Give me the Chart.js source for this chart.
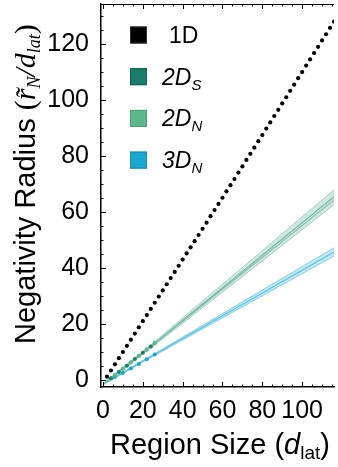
<!DOCTYPE html>
<html>
<head>
<meta charset="utf-8">
<script src="https://cdn.jsdelivr.net/npm/chart.js@4.4.0/dist/chart.umd.min.js"></script>
<style>
  html, body { margin: 0; padding: 0; background: #fff; }
  #wrap { width: 338px; height: 467px; }
</style>
</head>
<body>
<div id="wrap"><canvas id="radiusChart" width="338" height="467"></canvas></div>
<script>
// tick labels
const xTicks = [0, 20, 40, 60, 80, 100];
const yTicks = [0, 20, 40, 60, 80, 100, 120];

// 1D lattice points
const x1D = [2, 4, 6, 8, 10, 12, 14, 16, 18, 20, 22, 24, 26, 28, 30, 32, 34, 36, 38, 40,
  42, 44, 46, 48, 50, 52, 54, 56, 58, 60, 62, 64, 66, 68, 70, 72, 74, 76, 78, 80,
  82, 84, 86, 88, 90, 92, 94, 96, 98, 100, 102, 104, 106, 108, 110, 112, 114, 116];
const y1D = [1.2, 3.4, 5.6, 7.8, 10.0, 12.2, 14.4, 16.6, 18.8, 21.0, 23.2, 25.4, 27.6, 29.8, 32.0, 34.2, 36.4, 38.6, 40.8, 43.0,
  45.2, 47.4, 49.6, 51.8, 54.0, 56.2, 58.5, 60.7, 62.9, 65.1, 67.4, 69.6, 71.8, 74.1, 76.3, 78.6, 80.8, 83.0, 85.3, 87.5,
  89.8, 92.0, 94.3, 96.5, 98.8, 101.0, 103.3, 105.5, 107.8, 110.0, 112.3, 114.5, 116.8, 119.0, 121.3, 123.5, 125.8, 128.0];

// 2D / 3D points
const x2DS = [4, 8, 12, 16, 20, 24];
const y2DS = [0.6, 2.9, 5.1, 7.5, 9.7, 12.0];
const x2DN = [6, 10, 14, 18, 22, 26];
const y2DN = [1.8, 4.0, 6.3, 8.6, 10.9, 13.2];
const x3DN = [6, 10, 14, 18, 22, 26];
const y3DN = [1.1, 2.5, 4.1, 5.7, 7.4, 9.1];

// fits and confidence bands
const fitX = [0, 25, 116];
const fit2DS = [-1.6, 12.6, 65.5];
const fit2DN = [-1.4, 12.4, 64.3];
const band2DUp = [-1.2, 13.1, 67.9];
const band2DLo = [-1.8, 11.9, 62.6];
const fit3DN = [-1.5, 8.7, 45.7];
const band3DUp = [-1.3, 9.0, 47.2];
const band3DLo = [-1.7, 8.4, 44.3];

const legendItems = [
  { main: '1D', sub: '', italic: false, color: '#000000', border: '#333333' },
  { main: '2D', sub: 'S', italic: true, color: '#1a7d68', border: '#126050' },
  { main: '2D', sub: 'N', italic: true, color: '#5db98b', border: '#469e73' },
  { main: '3D', sub: 'N', italic: true, color: '#1ba7d0', border: '#158bb0' }
];

const pts = (xs, ys) => xs.map((x, i) => ({ x: x, y: ys[i] }));
const SANS = '"Liberation Sans", Arial, sans-serif';
const SERIF = '"Liberation Serif", "Times New Roman", serif';

function drawRuns(ctx, runs, x, y) {
  let cx = x;
  runs.forEach(r => {
    ctx.font = r.font;
    ctx.fillText(r.text, cx + (r.dx || 0), y + (r.dy || 0));
    cx += ctx.measureText(r.text).width + (r.kern || 0);
  });
}

const decorPlugin = {
  id: 'decor',
  afterDraw(chart) {
    const ctx = chart.ctx;
    const xs = chart.scales.x, ys = chart.scales.y;
    const area = chart.chartArea;
    ctx.save();
    ctx.strokeStyle = '#000';
    ctx.lineWidth = 1;
    // frame top
    ctx.beginPath();
    ctx.moveTo(area.left, area.top + 0.5);
    ctx.lineTo(area.right, area.top + 0.5);
    // minor / major ticks, pointing inward
    for (let v = 0; v <= 130; v += 5) {
      const p = Math.round(ys.getPixelForValue(v)) + 0.5;
      const len = v % 20 === 0 ? 5 : 2.5;
      ctx.moveTo(area.left, p);
      ctx.lineTo(area.left + len, p);
    }
    for (let v = 0; v <= 115; v += 5) {
      const p = Math.round(xs.getPixelForValue(v)) + 0.5;
      const len = v % 20 === 0 ? 5 : 2.5;
      ctx.moveTo(p, area.bottom);
      ctx.lineTo(p, area.bottom - len);
      ctx.moveTo(p, area.top);
      ctx.lineTo(p, area.top + len);
    }
    ctx.stroke();

    // legend
    ctx.textBaseline = 'alphabetic';
    ctx.fillStyle = '#000';
    legendItems.forEach((it, i) => {
      const cy = 35 + i * 41.7;
      ctx.fillStyle = it.color;
      ctx.fillRect(130, cy - 8.5, 17, 17);
      ctx.strokeStyle = it.border;
      ctx.lineWidth = 1;
      ctx.strokeRect(130.5, cy - 8, 16, 16);
      ctx.fillStyle = '#000';
      const base = cy + 8;
      if (it.italic) {
        drawRuns(ctx, [
          { text: it.main, font: 'italic 23px ' + SANS },
          { text: it.sub, font: 'italic 15px ' + SANS, dy: 5 }
        ], 162, base);
      } else {
        drawRuns(ctx, [{ text: it.main, font: '23px ' + SANS }], 169, base);
      }
    });

    // x title
    drawRuns(ctx, [
      { text: 'Region Size (', font: '29px ' + SANS },
      { text: 'd', font: 'italic 29px ' + SANS },
      { text: 'lat', font: '19px ' + SANS, dy: 5 },
      { text: ')', font: '29px ' + SANS }
    ], 110, 454);

    // y title
    ctx.translate(35, 344);
    ctx.rotate(-Math.PI / 2);
    drawRuns(ctx, [
      { text: 'Negativity Radius ', font: '29px ' + SANS },
      { text: '(', font: '30px ' + SERIF },
      { text: 'r\u0303', font: 'italic 30px ' + SERIF },
      { text: 'N', font: 'italic 18px ' + SERIF, dy: 5 },
      { text: '/', font: 'italic 30px ' + SERIF },
      { text: 'd', font: 'italic 30px ' + SERIF },
      { text: 'lat', font: 'italic 18px ' + SERIF, dy: 5 },
      { text: ')', font: '30px ' + SERIF }
    ], 0, 0);
    ctx.restore();
  }
};

const lineSet = (ys, color, width, extra) => Object.assign({
  type: 'line',
  data: pts(fitX, ys),
  borderColor: color,
  borderWidth: width,
  pointRadius: 0,
  fill: false,
  tension: 0
}, extra || {});

new Chart(document.getElementById('radiusChart'), {
  type: 'scatter',
  data: {
    datasets: [
      { data: pts(x1D, y1D), backgroundColor: '#000', borderWidth: 0, pointRadius: 2.1 },
      { data: pts(x2DN, y2DN), backgroundColor: '#5db98b', borderWidth: 0, pointRadius: 2.2 },
      { data: pts(x2DS, y2DS), backgroundColor: '#1a7d68', borderWidth: 0, pointRadius: 2.0 },
      { data: pts(x3DN, y3DN), backgroundColor: '#1ba7d0', borderWidth: 0, pointRadius: 2.0 },
      lineSet(fit2DS, '#76b9a8', 1.2),
      lineSet(fit2DN, '#8cc5b6', 1.2),
      lineSet(fit3DN, '#5fc6e0', 1.2),
      lineSet(band2DUp, '#a6d1c6', 1, { fill: '+1', backgroundColor: 'rgba(160,208,195,0.5)' }),
      lineSet(band2DLo, '#a6d1c6', 1),
      lineSet(band3DUp, '#7fd0e6', 1, { fill: '+1', backgroundColor: 'rgba(140,212,232,0.5)' }),
      lineSet(band3DLo, '#7fd0e6', 1)
    ]
  },
  options: {
    responsive: false,
    animation: false,
    layout: { padding: { top: 0, right: 0, left: 0, bottom: 0 } },
    plugins: { legend: { display: false }, tooltip: { enabled: false } },
    scales: {
      x: {
        type: 'linear', min: -1, max: 116,
        afterFit: s => { s.height = 80; s.paddingLeft = 0; s.paddingRight = 0; },
        afterBuildTicks: s => { s.ticks = xTicks.map(v => ({ value: v })); },
        grid: { display: false, drawTicks: false },
        border: { display: true, color: '#000', width: 1.5 },
        ticks: { autoSkip: false, maxRotation: 0, padding: 9, color: '#000',
          font: { family: SANS, size: 25 } }
      },
      y: {
        type: 'linear', min: -2.5, max: 134.3,
        afterFit: s => { s.width = 101; s.paddingTop = 0; s.paddingBottom = 0; },
        afterBuildTicks: s => { s.ticks = yTicks.map(v => ({ value: v })); },
        grid: { display: false, drawTicks: false },
        border: { display: true, color: '#000', width: 1.5 },
        ticks: { padding: 12, color: '#000', font: { family: SANS, size: 25 } }
      }
    }
  },
  plugins: [decorPlugin]
});
</script>
</body>
</html>
